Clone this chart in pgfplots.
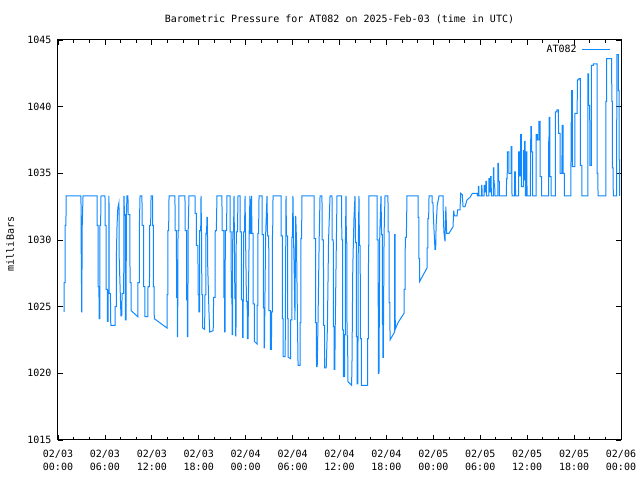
\documentclass[border=0pt]{standalone}
\usepackage{pgfplots}
\pgfplotsset{compat=1.18}
\usepackage{fontspec}
\setmainfont{DejaVu Sans Mono}
\definecolor{lineblue}{RGB}{16,136,255}
\begin{document}
\fontsize{10bp}{13bp}\selectfont
\begin{tikzpicture}[x=1bp,y=1bp]
\path[use as bounding box] (-58,-40) rectangle (582,440);
\begin{axis}[
  at={(0,0)}, anchor=south west,
  scale only axis, width=563bp, height=400bp,
  xmin=0, xmax=72, ymin=1015, ymax=1045,
  xtick={0,6,...,72},
  minor x tick num=2,
  xticklabels={{02/03\\00:00},{02/03\\06:00},{02/03\\12:00},{02/03\\18:00},{02/04\\00:00},{02/04\\06:00},{02/04\\12:00},{02/04\\18:00},{02/05\\00:00},{02/05\\06:00},{02/05\\12:00},{02/05\\18:00},{02/06\\00:00}},
  xticklabel style={align=center, yshift=-7bp, font=\fontsize{10bp}{13bp}\selectfont},
  ytick={1015,1020,...,1045},
  yticklabel style={xshift=-3bp},
  /pgf/number format/assume math mode=true,
  /pgf/number format/1000 sep={},
  tick align=inside,
  major tick length=5bp, minor tick length=3bp,
  every tick/.style={black, line width=0.8bp},
  axis line style={line width=1bp},
  title={Barometric Pressure for AT082 on 2025-Feb-03 (time in UTC)},
  title style={at={(0.5,1)}, anchor=base, yshift=12bp, inner sep=0pt},
  ylabel={milliBars},
  ylabel style={at={(axis description cs:-0.085,0.49)}, anchor=center, rotate=0},
  legend style={draw=none, fill=none, inner sep=0pt, at={(axis description cs:0.982,0.976)}, anchor=east, nodes={inner sep=1bp}, column sep=4bp},
  legend plot pos=right,
  legend image code/.code={\draw[#1] (0bp,0bp) -- (28bp,0bp);},
]
\addplot[lineblue, line width=1bp] table {
t p
0.77 1024.6
0.78 1026.8
0.90 1026.8
0.91 1031.1
1.02 1031.1
1.03 1033.3
2.94 1033.3
2.95 1029.0
3.00 1029.0
3.01 1024.6
3.05 1024.6
3.06 1026.8
3.10 1031.1
3.20 1033.3
4.99 1033.3
5.00 1031.1
5.12 1031.1
5.13 1026.5
5.24 1026.5
5.25 1024.1
5.35 1024.1
5.36 1031.1
5.45 1031.1
5.50 1033.3
6.01 1033.3
6.02 1031.1
6.15 1031.1
6.16 1026.3
6.30 1026.3
6.31 1023.9
6.40 1023.9
6.41 1026.2
6.50 1026.2
6.52 1033.3
6.55 1026.0
6.70 1026.0
6.75 1023.6
7.29 1023.6
7.30 1025.0
7.45 1025.0
7.46 1028.6
7.55 1031.1
7.65 1032.4
7.80 1032.8
7.81 1029.0
8.05 1024.3
8.15 1024.3
8.20 1026.0
8.40 1026.0
8.44 1033.3
8.50 1031.9
8.60 1031.9
8.62 1024.0
8.70 1024.0
8.75 1031.9
8.82 1033.3
8.95 1033.3
8.96 1031.9
9.20 1031.9
9.21 1026.8
9.34 1026.8
9.35 1024.7
10.20 1024.25
10.21 1026.8
10.40 1026.8
10.41 1031.1
10.49 1033.3
10.74 1033.3
10.75 1031.1
10.95 1031.1
10.96 1026.5
11.10 1026.5
11.11 1024.25
11.50 1024.25
11.51 1026.5
11.70 1026.5
11.71 1031.1
11.85 1031.1
11.90 1033.3
12.10 1033.3
12.11 1031.1
12.20 1031.1
12.21 1026.5
12.30 1026.5
12.31 1024.1
13.94 1023.4
13.95 1025.9
14.05 1025.9
14.06 1030.7
14.15 1030.7
14.20 1033.3
14.96 1033.3
14.97 1030.7
15.15 1030.7
15.16 1025.7
15.25 1025.7
15.26 1022.75
15.30 1022.75
15.35 1030.7
15.45 1030.7
15.47 1033.3
16.24 1033.3
16.25 1030.7
16.45 1030.7
16.46 1025.5
16.55 1025.5
16.56 1022.75
16.60 1022.75
16.65 1030.7
16.75 1033.3
17.52 1033.3
17.53 1032.0
17.70 1032.0
17.71 1029.6
17.90 1029.6
17.91 1025.9
18.00 1025.9
18.01 1024.6
18.10 1024.6
18.11 1030.7
18.25 1030.7
18.29 1033.3
18.35 1030.7
18.40 1025.9
18.50 1025.9
18.51 1023.4
18.75 1023.3
18.80 1025.9
18.90 1025.9
18.91 1030.5
19.00 1030.5
19.05 1031.7
19.10 1031.7
19.15 1028.0
19.30 1024.75
19.40 1023.1
19.85 1023.2
19.90 1025.7
20.10 1025.7
20.11 1030.7
20.25 1030.7
20.33 1033.3
20.97 1033.3
20.98 1030.7
21.20 1030.7
21.21 1025.7
21.30 1025.7
21.31 1023.1
21.36 1023.1
21.40 1030.7
21.55 1030.7
21.61 1033.3
22.00 1033.3
22.01 1030.6
22.15 1030.6
22.16 1025.7
22.25 1025.7
22.26 1022.9
22.32 1022.9
22.35 1030.6
22.45 1030.6
22.51 1033.3
22.55 1030.6
22.62 1025.6
22.70 1025.6
22.71 1022.8
22.76 1022.8
22.80 1030.6
22.95 1030.6
23.02 1033.3
23.28 1033.3
23.29 1030.6
23.45 1030.6
23.46 1025.5
23.60 1025.5
23.61 1022.7
23.66 1022.7
23.75 1030.6
23.85 1030.6
23.92 1033.3
23.98 1030.5
24.10 1025.4
24.20 1025.4
24.21 1022.6
24.30 1022.6
24.35 1025.4
24.45 1030.5
24.55 1033.3
24.60 1030.5
24.70 1030.5
24.75 1033.3
24.80 1030.5
24.95 1030.5
24.96 1025.2
25.10 1025.2
25.11 1022.4
25.45 1022.2
25.46 1025.1
25.55 1025.1
25.56 1030.5
25.65 1030.5
25.71 1033.3
26.09 1033.3
26.10 1030.4
26.25 1030.4
26.26 1024.9
26.35 1024.9
26.36 1021.9
26.40 1021.9
26.45 1024.9
26.55 1030.3
26.73 1033.3
26.80 1030.3
26.95 1030.3
26.96 1024.7
27.15 1024.7
27.16 1021.8
27.30 1021.8
27.31 1024.6
27.40 1024.6
27.41 1030.3
27.45 1030.3
27.50 1033.3
28.52 1033.3
28.53 1030.3
28.70 1030.3
28.71 1024.1
28.78 1024.1
28.79 1021.25
29.05 1021.25
29.16 1033.3
29.22 1030.3
29.35 1030.3
29.36 1024.1
29.42 1024.1
29.43 1021.2
29.75 1021.1
29.76 1024.0
29.90 1024.0
29.91 1030.2
29.98 1030.2
30.05 1033.3
30.12 1030.2
30.20 1028.0
30.30 1024.0
30.40 1031.8
30.50 1030.0
30.60 1025.0
30.70 1020.6
30.95 1020.6
30.96 1023.8
31.05 1023.8
31.06 1030.1
31.15 1030.1
31.20 1033.3
32.74 1033.3
32.75 1030.1
32.95 1030.1
32.96 1023.8
33.05 1023.8
33.06 1020.5
33.15 1020.5
33.25 1023.8
33.40 1030.0
33.51 1033.3
33.76 1033.3
33.77 1030.0
33.95 1030.0
33.96 1023.6
34.10 1023.6
34.11 1020.4
34.30 1020.4
34.45 1023.4
34.60 1030.0
34.79 1033.3
35.04 1033.3
35.05 1030.0
35.20 1030.0
35.21 1023.5
35.30 1023.5
35.31 1020.3
35.40 1020.3
35.45 1023.4
35.60 1029.9
35.68 1033.3
36.28 1033.3
36.29 1030.0
36.40 1030.0
36.41 1023.25
36.50 1023.25
36.51 1019.75
36.65 1019.75
36.66 1022.9
36.75 1022.9
36.76 1029.9
36.83 1033.3
36.88 1029.8
36.95 1029.8
36.96 1022.8
37.05 1022.8
37.06 1019.4
37.55 1019.1
37.60 1021.0
37.70 1028.0
37.85 1031.6
37.98 1033.3
38.05 1029.8
38.15 1029.8
38.16 1022.75
38.25 1022.75
38.26 1019.2
38.35 1019.2
38.40 1029.6
38.49 1033.3
38.55 1029.6
38.65 1029.6
38.66 1022.6
38.80 1022.6
38.81 1019.1
39.60 1019.1
39.61 1022.6
39.70 1022.6
39.71 1029.6
39.75 1029.6
39.77 1033.3
40.80 1033.3
40.81 1030.0
40.95 1030.0
40.96 1020.0
41.05 1020.0
41.15 1030.5
41.31 1033.3
41.38 1030.4
41.48 1030.4
41.49 1023.75
41.53 1023.75
41.54 1021.2
41.60 1021.2
41.70 1030.4
41.82 1033.3
42.20 1033.3
42.21 1030.6
42.35 1030.6
42.36 1025.3
42.45 1025.3
42.46 1022.5
43.05 1023.1
43.06 1030.4
43.12 1030.4
43.13 1023.3
43.48 1023.8
44.25 1024.5
44.26 1026.3
44.40 1026.3
44.41 1030.2
44.55 1030.2
44.63 1033.3
46.04 1033.3
46.05 1031.7
46.15 1031.7
46.16 1028.6
46.25 1028.6
46.26 1026.9
47.19 1027.9
47.20 1029.4
47.30 1029.4
47.31 1031.6
47.40 1031.6
47.45 1033.3
47.83 1033.3
47.84 1032.8
47.95 1032.8
48.00 1031.8
48.10 1030.6
48.21 1029.3
48.30 1029.3
48.35 1031.0
48.50 1032.6
48.73 1033.3
49.24 1033.3
49.25 1032.5
49.35 1030.6
49.49 1029.9
49.60 1032.5
49.70 1030.5
50.00 1030.5
50.52 1031.0
50.60 1032.2
50.70 1031.8
51.03 1031.8
51.10 1032.25
51.41 1032.25
51.50 1033.5
51.70 1033.4
51.80 1032.5
52.05 1032.5
52.30 1033.0
52.69 1033.2
53.00 1033.5
53.59 1033.5
53.65 1033.3
53.75 1033.3
53.76 1034.0
53.82 1034.0
53.83 1033.3
54.17 1033.3
54.18 1034.1
54.22 1034.1
54.23 1033.3
54.50 1033.3
54.51 1034.1
54.57 1034.1
54.58 1033.6
54.72 1033.6
54.73 1034.4
54.78 1034.4
54.79 1033.3
55.10 1033.3
55.11 1034.6
55.17 1034.6
55.18 1033.6
55.33 1033.6
55.34 1034.75
55.40 1034.75
55.41 1033.3
55.68 1033.3
55.69 1035.4
55.75 1035.4
55.76 1034.2
55.85 1034.2
55.86 1033.3
56.25 1033.3
56.26 1035.75
56.33 1035.75
56.34 1034.4
56.45 1034.4
56.46 1033.3
57.35 1033.3
57.36 1034.6
57.45 1034.6
57.46 1036.6
57.65 1036.6
57.66 1035.0
57.95 1035.0
57.96 1037.0
58.05 1037.0
58.06 1033.3
58.40 1033.3
58.41 1035.1
58.50 1035.1
58.51 1033.3
58.90 1033.3
58.91 1036.6
59.00 1036.6
59.01 1034.8
59.15 1034.8
59.16 1037.9
59.25 1037.9
59.26 1034.0
59.50 1034.0
59.51 1036.7
59.56 1036.7
59.57 1034.5
59.68 1034.5
59.69 1037.4
59.75 1037.4
59.76 1033.3
59.90 1033.3
59.91 1036.6
59.97 1036.6
59.98 1033.3
60.40 1033.3
60.41 1035.0
60.45 1035.0
60.46 1038.5
60.55 1038.5
60.56 1036.6
60.70 1036.6
60.71 1033.3
61.15 1033.3
61.16 1037.9
61.30 1037.9
61.31 1037.5
61.50 1037.5
61.51 1038.9
61.65 1038.9
61.66 1034.75
61.85 1034.75
61.86 1033.3
62.75 1033.3
62.76 1037.7
62.80 1037.7
62.81 1039.2
62.90 1039.2
62.91 1034.75
63.05 1034.75
63.06 1033.3
63.60 1033.3
63.61 1039.6
63.80 1039.6
63.81 1039.75
64.00 1039.75
64.01 1038.0
64.20 1038.0
64.21 1035.0
64.45 1035.0
64.46 1038.6
64.60 1038.6
64.61 1035.0
64.75 1035.0
64.76 1033.3
65.60 1033.3
65.61 1038.8
65.68 1038.8
65.69 1041.2
65.78 1041.2
65.79 1035.5
66.10 1035.5
66.11 1039.5
66.40 1039.5
66.41 1042.0
66.60 1042.0
66.61 1042.1
66.80 1042.1
66.81 1035.6
67.00 1035.6
67.01 1033.3
67.75 1033.3
67.76 1042.45
67.85 1042.45
67.86 1040.1
68.00 1040.1
68.01 1035.6
68.20 1035.6
68.21 1043.1
68.45 1043.1
68.46 1043.2
68.93 1043.2
68.94 1035.0
69.05 1035.0
69.06 1033.3
70.05 1033.3
70.06 1040.4
70.15 1040.4
70.16 1043.6
70.81 1043.6
70.82 1040.4
70.90 1040.4
70.91 1035.4
71.00 1035.4
71.01 1033.3
71.45 1033.3
71.46 1043.9
71.66 1043.9
71.67 1041.2
71.75 1041.2
71.76 1036.0
71.82 1036.0
71.83 1033.3
};
\addlegendentry{AT082}
\end{axis}
\end{tikzpicture}
\end{document}
